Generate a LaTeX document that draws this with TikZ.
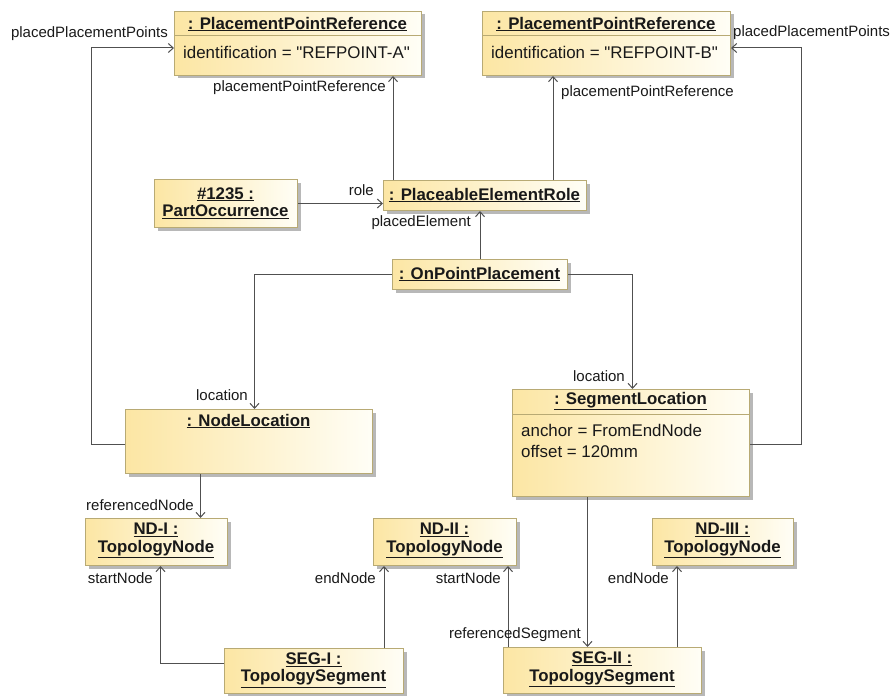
\documentclass[tikz,border=0pt]{standalone}
\usepackage{fontspec}
\setmainfont{Liberation Sans}[Ligatures=TeXOff]
\usetikzlibrary{arrows.meta,shadows}

\definecolor{objfill}{RGB}{252,230,164}
\definecolor{objfade}{RGB}{255,254,246}
\definecolor{objline}{RGB}{184,170,116}
\definecolor{wire}{RGB}{80,80,80}
\definecolor{txt}{RGB}{25,25,25}

\tikzset{
  obj/.style={draw=objline, line width=1pt, left color=objfill, right color=objfade,
    drop shadow={shadow xshift=3pt, shadow yshift=-3pt, fill=black!28, opacity=1},
    inner sep=0pt, anchor=north west},
  objtitle/.style={inner sep=0pt, text=txt, align=center,
    font=\fontsize{16.8}{17.5}\selectfont\bfseries},
  attr/.style={inner sep=0pt, anchor=west, text=txt, font=\fontsize{16.9}{20}\selectfont},
  lbl/.style={inner sep=0pt, text=txt, font=\fontsize{15}{18}\selectfont},
  conn/.style={draw=wire, line width=1pt, -{Straight Barb[length=5pt,width=9pt,line width=1pt]}},
  divider/.style={draw=objline, line width=1pt}
}
\newcommand{\objname}[1]{\underline{#1}}

\begin{document}
\begin{tikzpicture}[x=1pt,y=-1pt]
\useasboundingbox (0,0) rectangle (890,695);

% ---------- placement point references ----------
\node[obj, minimum width=247pt, minimum height=64pt] (ppA) at (174,11) {};
\node[objtitle] (ppAt) at (297.5,24) {\objname{: PlacementPointReference}};
\draw[divider] (174,36) -- (421,36);
\node[attr] (ppAa) at (183,52) {identification = "REFPOINT-A"};

\node[obj, minimum width=248pt, minimum height=64pt] (ppB) at (482,11) {};
\node[objtitle] (ppBt) at (606,24) {\objname{: PlacementPointReference}};
\draw[divider] (482,36) -- (730,36);
\node[attr] (ppBa) at (491,52) {identification = "REFPOINT-B"};

% ---------- role and part ----------
\node[obj, minimum width=143pt, minimum height=48pt] (part) at (154,179) {};
\node[objtitle] (partt) at (225.5,203) {\objname{\#1235 :}\\\objname{PartOccurrence}};

\node[obj, minimum width=203pt, minimum height=30pt] (role) at (383,180) {};
\node[objtitle] (rolet) at (484.5,195) {\objname{: PlaceableElementRole}};

\node[obj, minimum width=175pt, minimum height=30pt] (opp) at (392,259) {};
\node[objtitle] (oppt) at (479.5,274) {\objname{: OnPointPlacement}};

% ---------- locations ----------
\node[obj, minimum width=247pt, minimum height=64pt] (nloc) at (125,409) {};
\node[objtitle] (nloct) at (248.5,421) {\objname{: NodeLocation}};

\node[obj, minimum width=237pt, minimum height=107pt] (sloc) at (512,389) {};
\node[objtitle] (sloct) at (630.5,401) {\objname{: SegmentLocation}};
\draw[divider] (512,414) -- (749,414);
\node[attr] (sloca) at (521,430) {anchor = FromEndNode};
\node[attr] (slocb) at (521,451) {offset = 120mm};

% ---------- topology ----------
\node[obj, minimum width=142pt, minimum height=47pt] (nd1) at (85,518) {};
\node[objtitle] (nd1t) at (156,540.5) {\objname{ND-I :}\\\objname{TopologyNode}};

\node[obj, minimum width=143pt, minimum height=47pt] (nd2) at (373,518) {};
\node[objtitle] (nd2t) at (444.5,540.5) {\objname{ND-II :}\\\objname{TopologyNode}};

\node[obj, minimum width=141pt, minimum height=47pt] (nd3) at (652,518) {};
\node[objtitle] (nd3t) at (722.5,540.5) {\objname{ND-III :}\\\objname{TopologyNode}};

\node[obj, minimum width=179pt, minimum height=45pt] (seg1) at (224,648) {};
\node[objtitle] (seg1t) at (313.5,670) {\objname{SEG-I :}\\\objname{TopologySegment}};

\node[obj, minimum width=198pt, minimum height=46pt] (seg2) at (503,647) {};
\node[objtitle] (seg2t) at (602,669.5) {\objname{SEG-II :}\\\objname{TopologySegment}};

% ---------- attachment points ----------
\coordinate (rA) at ([xshift=10pt]role.north west);
\coordinate (rB) at ([xshift=-34pt]role.north east);
\coordinate (nlIn) at ([xshift=5.5pt]nloc.north);
\coordinate (slIn) at ([xshift=1.5pt]sloc.north);
\coordinate (nlOut) at ([xshift=-48.5pt]nloc.south);
\coordinate (slOut) at ([xshift=-43.5pt]sloc.south);
\coordinate (nd1In) at ([xshift=4pt]nd1.south);
\coordinate (s1Up) at ([xshift=-20pt]seg1.north east);
\coordinate (s2Left) at ([xshift=5pt]seg2.north west);
\coordinate (s2Right) at ([xshift=-25pt]seg2.north east);

% ---------- connectors ----------
\draw[conn] ([yshift=-3pt]nloc.west) -- ++(-34,0) |- ([yshift=-4.5pt]ppA.west);
\draw[conn] ([yshift=-1.5pt]sloc.east) -- ++(51,0) |- ([yshift=-4.5pt]ppB.east);
\draw[conn] (rA) -- (rA |- ppA.south);
\draw[conn] (rB) -- (rB |- ppB.south);
\draw[conn] (part.east) -- (part.east -| role.west);
\draw[conn] (opp.north) -- (opp.north |- role.south);
\draw[conn] (opp.west) -| (nlIn);
\draw[conn] (opp.east) -| (slIn);
\draw[conn] (nlOut) -- (nlOut |- nd1.north);
\draw[conn] (slOut) -- (slOut |- seg2.north);
\draw[conn] ([yshift=7.5pt]seg1.west) -| (nd1In);
\draw[conn] (s1Up) -- (s1Up |- nd2.south);
\draw[conn] (s2Left) -- (s2Left |- nd2.south);
\draw[conn] (s2Right) -- (s2Right |- nd3.south);

% ---------- role names ----------
\node[lbl, anchor=east] (lppA) at (168,34) {placedPlacementPoints};
\node[lbl, anchor=west] (lppB) at (733,33) {placedPlacementPoints};
\node[lbl, anchor=east] (lprA) at (386,88) {placementPointReference};
\node[lbl, anchor=west] (lprB) at (561,93) {placementPointReference};
\node[lbl, anchor=east] (lrole) at (374,190) {role};
\node[lbl, anchor=east] (lpe) at (471,223) {placedElement};
\node[lbl, anchor=east] (lloc1) at (248,395) {location};
\node[lbl, anchor=east] (lloc2) at (625,376) {location};
\node[lbl, anchor=east] (lref) at (194,505) {referencedNode};
\node[lbl, anchor=east] (lst1) at (153,578) {startNode};
\node[lbl, anchor=east] (len1) at (376,578) {endNode};
\node[lbl, anchor=east] (lst2) at (501,578) {startNode};
\node[lbl, anchor=east] (len2) at (669,578) {endNode};
\node[lbl, anchor=east] (lseg) at (581,635) {referencedSegment};
\end{tikzpicture}
\end{document}
